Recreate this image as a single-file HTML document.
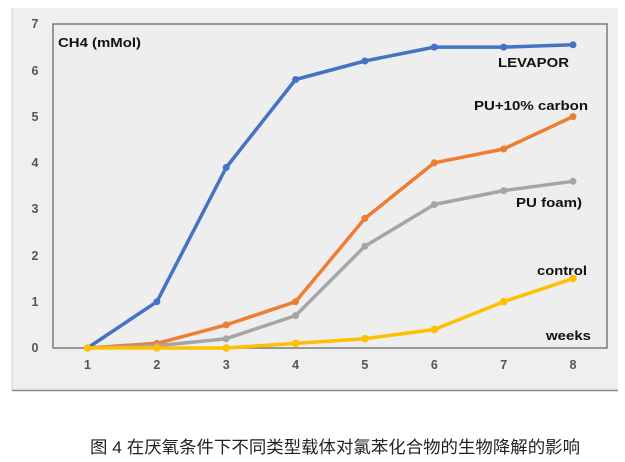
<!DOCTYPE html>
<html><head><meta charset="utf-8"><style>
html,body{margin:0;padding:0;background:#fff;width:625px;height:462px;overflow:hidden}
svg{display:block}
</style></head><body>
<svg width="625" height="462" viewBox="0 0 625 462" xmlns="http://www.w3.org/2000/svg">
<rect x="12" y="8" width="606" height="382" fill="#efefef"/>
<line x1="12" y1="8" x2="12" y2="390" stroke="#e4dccd" stroke-width="1.5"/>
<line x1="12" y1="390.5" x2="618" y2="390.5" stroke="#8a8a8a" stroke-width="1.5"/>
<rect x="53" y="24" width="554" height="324" fill="#eeeeee" stroke="#7a7a7a" stroke-width="1.5"/>
<g font-family="Liberation Sans, Arial, sans-serif" font-weight="bold" font-size="12.5" fill="#555" text-anchor="middle">
<text x="35" y="352">0</text>
<text x="35" y="306">1</text>
<text x="35" y="260">2</text>
<text x="35" y="213">3</text>
<text x="35" y="167">4</text>
<text x="35" y="121">5</text>
<text x="35" y="75">6</text>
<text x="35" y="28">7</text>
<text x="87.5" y="369">1</text>
<text x="156.9" y="369">2</text>
<text x="226.2" y="369">3</text>
<text x="295.6" y="369">4</text>
<text x="364.9" y="369">5</text>
<text x="434.3" y="369">6</text>
<text x="503.7" y="369">7</text>
<text x="573" y="369">8</text>
</g>
<g font-family="Liberation Sans, Arial, sans-serif" font-weight="bold" font-size="13" fill="#111" lengthAdjust="spacingAndGlyphs">
<text x="58" y="47" textLength="83" lengthAdjust="spacingAndGlyphs">CH4 (mMol)</text>
<text x="498" y="67" textLength="71" lengthAdjust="spacingAndGlyphs">LEVAPOR</text>
<text x="474" y="110" textLength="114" lengthAdjust="spacingAndGlyphs">PU+10% carbon</text>
<text x="516" y="207" textLength="66" lengthAdjust="spacingAndGlyphs">PU foam)</text>
<text x="537" y="275" textLength="50" lengthAdjust="spacingAndGlyphs">control</text>
<text x="546" y="340" textLength="45" lengthAdjust="spacingAndGlyphs">weeks</text>
</g>
<g fill="none" stroke-width="3.5" stroke-linejoin="round" stroke-linecap="round">
<polyline stroke="#4472C4" points="87.5,348 156.9,301.7 226.2,167.5 295.6,79.5 364.9,61 434.3,47.1 503.7,47.1 573,44.8"/>
<polyline stroke="#ED7D31" points="87.5,348 156.9,343.4 226.2,324.9 295.6,301.7 364.9,218.4 434.3,162.8 503.7,149 573,116.6"/>
<polyline stroke="#A5A5A5" points="87.5,348 156.9,345.7 226.2,338.7 295.6,315.6 364.9,246.2 434.3,204.5 503.7,190.6 573,181.3"/>
<polyline stroke="#FFC000" points="87.5,348 156.9,348 226.2,348 295.6,343.4 364.9,338.7 434.3,329.5 503.7,301.7 573,278.6"/>
</g>
<g fill="#4472C4">
<circle cx="87.5" cy="348" r="3.5"/><circle cx="156.9" cy="301.7" r="3.5"/><circle cx="226.2" cy="167.5" r="3.5"/><circle cx="295.6" cy="79.5" r="3.5"/><circle cx="364.9" cy="61" r="3.5"/><circle cx="434.3" cy="47.1" r="3.5"/><circle cx="503.7" cy="47.1" r="3.5"/><circle cx="573" cy="44.8" r="3.5"/>
</g>
<g fill="#ED7D31">
<circle cx="156.9" cy="343.4" r="3.5"/><circle cx="226.2" cy="324.9" r="3.5"/><circle cx="295.6" cy="301.7" r="3.5"/><circle cx="364.9" cy="218.4" r="3.5"/><circle cx="434.3" cy="162.8" r="3.5"/><circle cx="503.7" cy="149" r="3.5"/><circle cx="573" cy="116.6" r="3.5"/>
</g>
<g fill="#A5A5A5">
<circle cx="156.9" cy="345.7" r="3.5"/><circle cx="226.2" cy="338.7" r="3.5"/><circle cx="295.6" cy="315.6" r="3.5"/><circle cx="364.9" cy="246.2" r="3.5"/><circle cx="434.3" cy="204.5" r="3.5"/><circle cx="503.7" cy="190.6" r="3.5"/><circle cx="573" cy="181.3" r="3.5"/>
</g>
<g fill="#FFC000">
<circle cx="87.5" cy="348" r="3.8"/><circle cx="156.9" cy="348" r="3.8"/><circle cx="226.2" cy="348" r="3.8"/><circle cx="295.6" cy="343.4" r="3.8"/><circle cx="364.9" cy="338.7" r="3.8"/><circle cx="434.3" cy="329.5" r="3.8"/><circle cx="503.7" cy="301.7" r="3.8"/><circle cx="573" cy="278.6" r="3.8"/>
</g>
<text x="335" y="453" text-anchor="middle" font-family="Liberation Sans, Noto Sans CJK SC, sans-serif" font-size="17" fill="#222" textLength="490" lengthAdjust="spacingAndGlyphs">图 4 在厌氧条件下不同类型载体对氯苯化合物的生物降解的影响</text>
</svg>
</body></html>
